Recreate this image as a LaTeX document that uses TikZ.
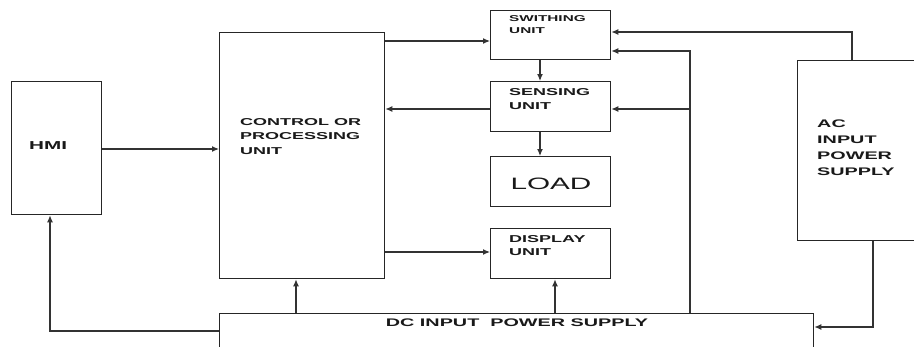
\documentclass[tikz,border=0pt]{standalone}
\usepackage{fontspec}
\setmainfont{Liberation Sans}
\newfontfamily\wfont{Liberation Sans}[FakeStretch=1.8]
\usetikzlibrary{arrows.meta,calc}
\begin{document}
\begin{tikzpicture}[x=1pt,y=-1pt,
  box/.style={draw=black!85, line width=1.3pt, inner sep=0pt, anchor=north west},
  lbl/.style={inner sep=0pt, anchor=north west, align=left, text=black!90},
  wire/.style={draw=black!80, line width=1.2pt},
  arr/.style={wire, -{Latex[length=7pt,width=6pt]}}]
\clip (0,0) rectangle (914,346);
\fill[white] (0,0) rectangle (914,346);

% boxes
\node[box, minimum width=90pt, minimum height=133pt] (hmi) at (11,81) {};
\node[box, minimum width=165pt, minimum height=246pt] (ctrl) at (219,32) {};
\node[box, minimum width=120pt, minimum height=49pt] (sw) at (490,10) {};
\node[box, minimum width=120pt, minimum height=50pt] (sen) at (490,81) {};
\node[box, minimum width=120pt, minimum height=50pt] (load) at (490,156) {};
\node[box, minimum width=120pt, minimum height=50pt] (disp) at (490,228) {};
\node[box, minimum width=130pt, minimum height=180pt] (ac) at (797,60) {};
\node[box, minimum width=594pt, minimum height=60pt] (dc) at (219,313) {};

% texts
\node[lbl, anchor=west, font=\wfont\bfseries\fontsize{11.5}{12}\selectfont] (thmi) at (29,146) {HMI};
\node[lbl, font=\wfont\bfseries\fontsize{10}{14.5}\selectfont] (tctrl) at (240,118) {CONTROL OR\\PROCESSING\\UNIT};
\node[lbl, font=\wfont\bfseries\fontsize{8.5}{12}\selectfont] (tsw) at (509,15) {SWITHING\\UNIT};
\node[lbl, font=\wfont\bfseries\fontsize{10}{14}\selectfont] (tsen) at (509,88) {SENSING\\UNIT};
\node[lbl, anchor=center, font=\wfont\fontsize{16.5}{18}\selectfont] (tload) at (551,184) {LOAD};
\node[lbl, font=\wfont\bfseries\fontsize{10}{13.5}\selectfont] (tdisp) at (509,235) {DISPLAY\\UNIT};
\node[lbl, font=\wfont\bfseries\fontsize{11}{16}\selectfont] (tac) at (817,120) {AC\\INPUT\\POWER\\SUPPLY};
\node[lbl, anchor=center, font=\wfont\bfseries\fontsize{11}{13}\selectfont] (tdc) at (517,323) {DC INPUT\ \ POWER SUPPLY};

% bend points
\coordinate (acup) at (852,32);
\coordinate (dcup) at (690,51);
\coordinate (dcsen) at (690,109);
\coordinate (acdn) at (873,327);
\coordinate (dchmi) at (50,331);

% connectors
\draw[arr] (ctrl.east |- 0,41) -- (sw.west |- 0,41);
\draw[arr] (sen.west |- 0,109) -- (ctrl.east |- 0,109);
\draw[arr] (ctrl.east |- 0,252) -- (disp.west |- 0,252);
\draw[arr] (hmi.east |- 0,149) -- (ctrl.west |- 0,149);
\draw[arr] (540,0 |- sw.south) -- (540,0 |- sen.north);
\draw[arr] (540,0 |- sen.south) -- (540,0 |- load.north);
\draw[arr] (acup |- ac.north) -- (acup) -- (sw.east |- acup);
\draw[arr] (dcup |- dc.north) -- (dcup) -- (sw.east |- dcup);
\draw[arr] (dcsen) -- (sen.east |- dcsen);
\draw[arr] (acdn |- ac.south) -- (acdn) -- (dc.east |- acdn);
\draw[arr] (296,0 |- dc.north) -- (296,0 |- ctrl.south);
\draw[arr] (555,0 |- dc.north) -- (555,0 |- disp.south);
\draw[arr] (dc.west |- dchmi) -- (dchmi) -- (dchmi |- hmi.south);
\end{tikzpicture}
\end{document}
